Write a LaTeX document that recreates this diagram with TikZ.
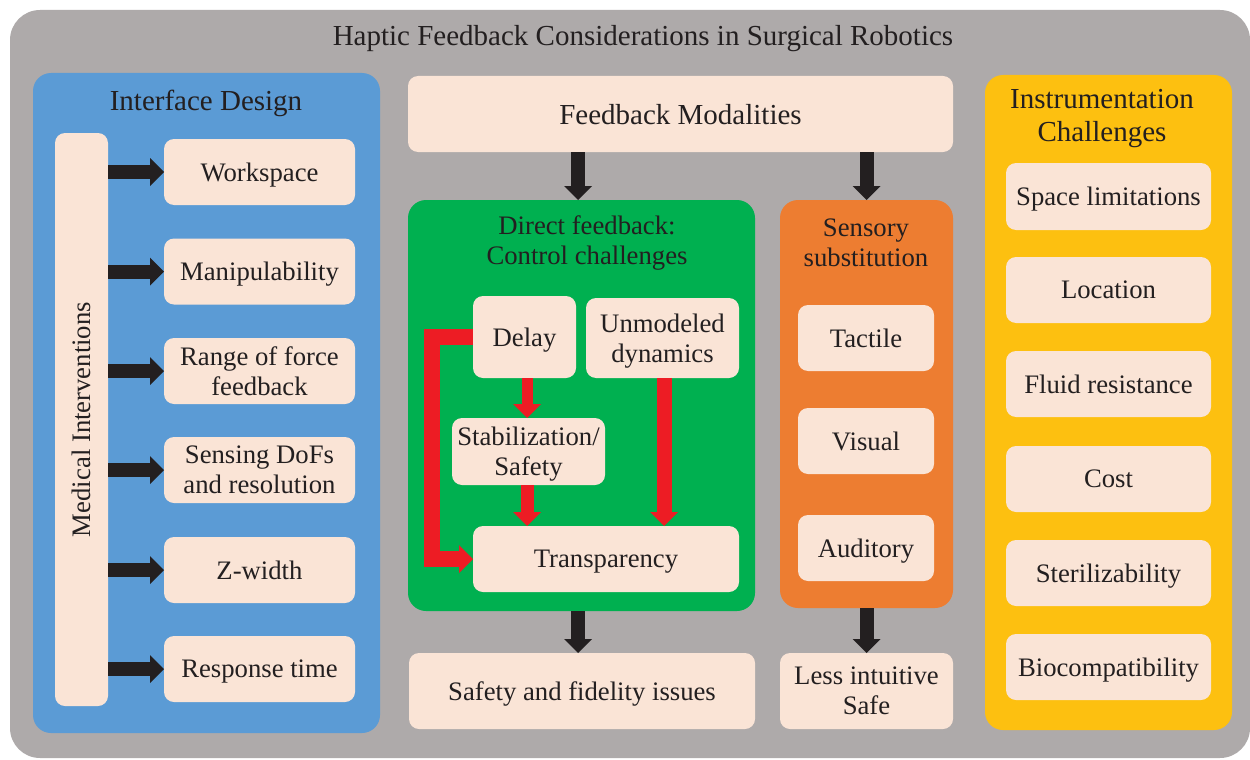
\documentclass[tikz,border=0pt]{standalone}
\usepackage{fontspec}
\setmainfont{Liberation Serif}
\usetikzlibrary{arrows.meta}
\definecolor{outerc}{HTML}{AEAAAA}
\definecolor{bluec}{HTML}{5B9BD5}
\definecolor{greenc}{HTML}{00B050}
\definecolor{orangec}{HTML}{ED7D31}
\definecolor{yellowc}{HTML}{FDC010}
\definecolor{boxc}{HTML}{FAE4D6}
\definecolor{txtc}{HTML}{231F20}
\definecolor{redc}{HTML}{ED1C24}
\begin{document}
\begin{tikzpicture}[x=1pt,y=-1pt,
  font=\fontsize{26.7}{30}\selectfont,
  big/.style={font=\fontsize{29}{33}\selectfont},
  panel/.style={rounded corners=18pt, inner sep=0pt, outer sep=0pt},
  box/.style={fill=boxc, rounded corners=10pt, align=center, text=txtc, inner sep=0pt, outer sep=0pt, text depth=0pt},
  ttl/.style={align=center, text=txtc, inner sep=0pt, text depth=0pt},
  barrow/.style={draw=txtc, line width=14pt, -{Triangle[width=28pt,length=14pt,line width=0pt]}},
  rarrow/.style={draw=redc, line width=13pt, line join=miter, -{Triangle[width=28pt,length=14pt,line width=0pt]}}]
\useasboundingbox (0,0) rectangle (1250,760);
% outer
\node[panel, fill=outerc, rounded corners=30pt, minimum width=1240pt, minimum height=748pt] (outer) at (630,384) {};
\node[ttl, big] (title) at (643,35) {Haptic Feedback Considerations in Surgical Robotics};
% panels
\node[panel, fill=bluec, minimum width=347pt, minimum height=660pt] (ifd) at (206.5,403) {};
\node[ttl, big] (ifdt) at (206,100) {Interface Design};
\node[panel, fill=greenc, minimum width=347pt, minimum height=411pt] (dfb) at (581.5,405.5) {};
\node[ttl] (dfbt) at (587,240) {Direct feedback:\\Control challenges};
\node[panel, fill=orangec, minimum width=173pt, minimum height=408pt] (ss) at (866.5,404) {};
\node[ttl] (sst) at (866,243) {Sensory\\substitution};
\node[panel, fill=yellowc, minimum width=247pt, minimum height=655pt] (ic) at (1108.5,402.5) {};
\node[ttl, big] (ict) at (1102,115) {Instrumentation\\Challenges};
% interface design
\node[box, rotate=90, minimum width=573pt, minimum height=53pt] (mi) at (81.5,419.5) {Medical Interventions};
\node[box, minimum width=191pt, minimum height=66pt] (ws) at (259.5,172) {Workspace};
\node[box, minimum width=191pt, minimum height=66pt] (man) at (259.5,271.5) {Manipulability};
\node[box, minimum width=191pt, minimum height=66pt] (rf) at (259.5,371) {Range of force\\feedback};
\node[box, minimum width=191pt, minimum height=66pt] (sd) at (259.5,470) {Sensing DoFs\\and resolution};
\node[box, minimum width=191pt, minimum height=66pt] (zw) at (259.5,570) {Z-width};
\node[box, minimum width=191pt, minimum height=66pt] (rt) at (259.5,669) {Response time};
\foreach \n in {ws,man,rf,sd,zw,rt}
  \draw[barrow] (mi.south |- \n.west) -- (\n.west);
% feedback modalities
\node[box, big, minimum width=545pt, minimum height=76pt] (fm) at (680.5,114) {Feedback Modalities};
\draw[barrow] (fm.south -| 578,0) -- (578,0 |- dfb.north);
\draw[barrow] (fm.south -| ss.north) -- (ss.north);
% direct feedback content
\node[box, minimum width=103pt, minimum height=82pt] (delay) at (524.5,337) {Delay};
\node[box, minimum width=153pt, minimum height=80pt] (um) at (662.5,338) {Unmodeled\\dynamics};
\node[box, minimum width=153pt, minimum height=67pt] (stab) at (528.5,451.5) {Stabilization/\\Safety};
\node[box, minimum width=266pt, minimum height=66pt] (tr) at (606,559) {Transparency};
\draw[rarrow, line width=11pt] (delay.south -| 527,0) -- (527,0 |- stab.north);
\draw[rarrow] (stab.south -| 527,0) -- (527,0 |- tr.north);
\draw[rarrow, line width=15pt] (um.south -| 664,0) -- (664,0 |- tr.north);
\draw[rarrow, line width=16pt] (delay.west) -- ++(-41,0) |- (tr.west);
% sensory substitution content
\node[box, minimum width=136pt, minimum height=66pt] (tac) at (866,338) {Tactile};
\node[box, minimum width=136pt, minimum height=66pt] (vis) at (866,441) {Visual};
\node[box, minimum width=136pt, minimum height=66pt] (aud) at (866,548) {Auditory};
% bottom results
\node[box, minimum width=346pt, minimum height=76pt] (sfi) at (582,691) {Safety and fidelity issues};
\node[box, minimum width=173pt, minimum height=76pt] (lis) at (866.5,691) {Less intuitive\\Safe};
\draw[barrow] (dfb.south -| 578,0) -- (578,0 |- sfi.north);
\draw[barrow] (ss.south -| lis.north) -- (lis.north);
% instrumentation
\node[box, minimum width=205pt, minimum height=67pt] (sl) at (1108.5,196.5) {Space limitations};
\node[box, minimum width=205pt, minimum height=66pt] (loc) at (1108.5,290) {Location};
\node[box, minimum width=205pt, minimum height=66pt] (fr) at (1108.5,384) {Fluid resistance};
\node[box, minimum width=205pt, minimum height=66pt] (cost) at (1108.5,479) {Cost};
\node[box, minimum width=205pt, minimum height=66pt] (ster) at (1108.5,573) {Sterilizability};
\node[box, minimum width=205pt, minimum height=66pt] (bio) at (1108.5,667) {Biocompatibility};
\end{tikzpicture}
\end{document}
